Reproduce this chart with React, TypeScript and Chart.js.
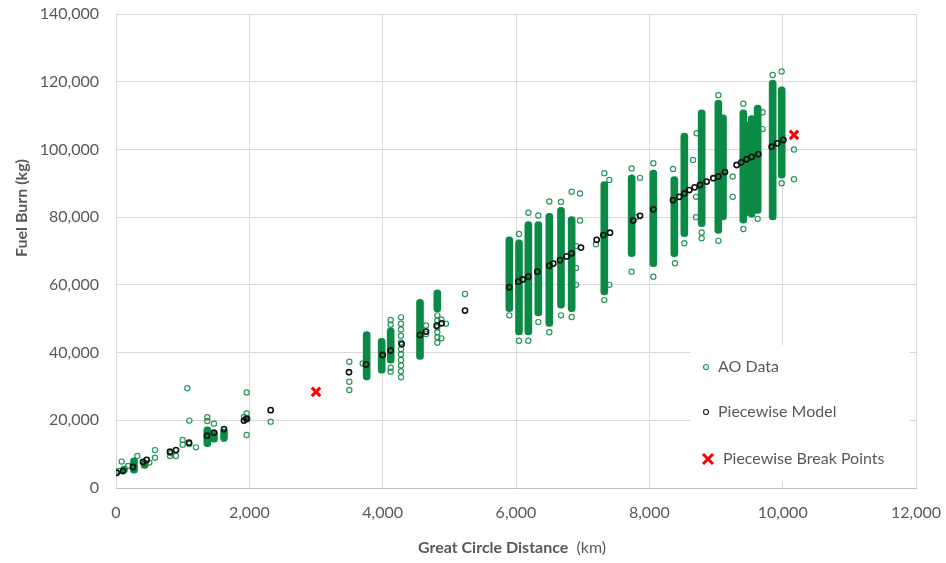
import React, { useEffect, useRef } from "react";
import { Chart, registerables } from "chart.js";

Chart.register(...registerables);

// Dense AO data columns: [distance km, min fuel kg, max fuel kg]
const aoColumns: [number, number, number][] = [
  [120, 4500, 6500],
  [270, 4400, 8900],
  [430, 5800, 8200],
  [1370, 12200, 18100],
  [1470, 13500, 17000],
  [1620, 14000, 17500],
  [1960, 19600, 21300],
  [3760, 31900, 46200],
  [3985, 33900, 44200],
  [4120, 36900, 47300],
  [4560, 38000, 55700],
  [4820, 52000, 58500],
  [5900, 52100, 74200],
  [6045, 45200, 73300],
  [6185, 45200, 78700],
  [6335, 50800, 78700],
  [6500, 47700, 81100],
  [6675, 53100, 82900],
  [6835, 52100, 80200],
  [7325, 57000, 90500],
  [7735, 68300, 92500],
  [8060, 65400, 93900],
  [8375, 68300, 92000],
  [8525, 74200, 104800],
  [8785, 77200, 111700],
  [9035, 75200, 114600],
  [9105, 79200, 110200],
  [9410, 78200, 111700],
  [9480, 80500, 108000],
  [9535, 80000, 110000],
  [9625, 81100, 113100],
  [9850, 79200, 120500],
  [9985, 91500, 118500],
];

// Individual AO data points: [distance km, fuel kg]
const aoPoints: [number, number][] = [
  [40, 5000], [85, 7800], [180, 6500], [320, 9450], [500, 7500], [585, 11200], [585, 8950],
  [810, 9450], [820, 10300], [900, 9450], [1000, 14200], [1000, 12800], [1070, 29450],
  [1100, 19900], [1100, 13000], [1200, 12000], [1370, 20900], [1370, 19800], [1470, 19000],
  [1620, 14500], [1920, 21000], [1960, 28200], [1960, 22000], [1960, 15650], [2320, 19600],
  [3500, 37300], [3500, 31400], [3500, 28950], [3700, 36800],
  [4120, 49600], [4120, 48200], [4120, 34350], [4120, 35500],
  [4275, 50400], [4275, 48500], [4275, 46800], [4275, 45000], [4275, 43000], [4275, 41000],
  [4275, 39500], [4275, 37800], [4275, 36200], [4275, 34500], [4275, 32700],
  [4650, 48000], [4650, 45500], [4820, 42900], [4820, 44500], [4820, 46000], [4820, 47500],
  [4820, 49500], [4820, 51000], [4880, 49800], [4950, 48500], [4880, 44200], [5235, 57300],
  [5900, 51000], [6045, 43500], [6045, 75000], [6185, 43500], [6185, 81300], [6335, 49000],
  [6335, 80500], [6500, 46000], [6500, 84600], [6675, 51000], [6675, 84500], [6835, 50500],
  [6835, 87500], [6960, 87000], [6900, 71500], [6900, 65000], [6900, 60000], [6960, 79000],
  [7200, 72000], [7325, 93000], [7325, 55500], [7400, 91000], [7400, 60000], [7735, 94400],
  [7735, 63900], [7800, 80000], [7860, 91600], [8060, 95900], [8060, 62400], [8385, 66400],
  [8355, 94200], [8525, 72300], [8655, 96900], [8710, 104800], [8785, 73800], [8785, 75500],
  [8700, 86000], [8700, 80000], [9035, 73000], [9035, 116000], [9250, 86000], [9250, 92000],
  [9410, 76500], [9410, 113500], [9625, 79500], [9700, 111000], [9700, 106000],
  [9850, 118000], [9850, 122000], [9985, 123000], [9985, 90000], [10170, 100000], [10170, 91200],
];

// Piecewise model points: [distance km, fuel kg]
const modelPoints: [number, number][] = [
  [10, 4500], [105, 5000], [255, 6200], [405, 7700], [460, 8300], [810, 10700], [900, 11200],
  [1095, 13400], [1365, 15450], [1470, 16350], [1620, 17400], [1920, 19900], [1960, 20400],
  [2320, 23000], [3495, 34200], [3750, 36500], [4000, 39300], [4120, 40600], [4285, 42500],
  [4560, 45200], [4650, 46200], [4810, 47950], [4885, 48650], [5235, 52400], [5900, 59300],
  [6035, 60950], [6100, 61600], [6185, 62400], [6320, 63900], [6500, 65650], [6560, 66300],
  [6660, 67300], [6760, 68400], [6835, 69300], [6975, 71000], [7210, 73300], [7310, 74700],
  [7410, 75400], [7760, 79000], [7860, 80400], [8060, 82300], [8355, 85000], [8450, 86000],
  [8525, 87000], [8600, 88000], [8680, 88800], [8760, 89500], [8860, 90500], [8960, 91500],
  [9035, 92000], [9135, 93300], [9310, 95400], [9380, 96200], [9460, 97100], [9535, 97800],
  [9635, 98600], [9835, 100800], [9920, 101800], [10010, 102800],
];

// Piecewise break points
const breakPoints: [number, number][] = [
  [3000, 28400],
  [10170, 104300],
];

const xTicks = [0, 2000, 4000, 6000, 8000, 10000, 12000];
const yTicks = [0, 20000, 40000, 60000, 80000, 100000, 120000, 140000];

const GREEN = "#0b8a45";
const AO_STROKE = "rgba(18,140,72,0.9)";
const TEXT = "#595959";
const FONT = "Lato, 'Open Sans', sans-serif";

const overlayPlugin = {
  id: "overlay",
  afterDraw(chart: any) {
    const { ctx, chartArea } = chart;
    ctx.save();
    // Legend box
    const lx = chartArea.right - 226;
    const ly = chartArea.bottom - 143;
    ctx.fillStyle = "#ffffff";
    ctx.fillRect(lx, ly, 220, 136);
    ctx.font = `16px ${FONT}`;
    ctx.fillStyle = TEXT;
    ctx.textBaseline = "middle";
    ctx.textAlign = "left";
    // AO Data
    ctx.beginPath();
    ctx.arc(lx + 16, ly + 22, 2.5, 0, Math.PI * 2);
    ctx.strokeStyle = AO_STROKE;
    ctx.lineWidth = 1.2;
    ctx.stroke();
    ctx.fillText("AO Data", lx + 28, ly + 22);
    // Model
    ctx.beginPath();
    ctx.arc(lx + 16, ly + 67, 2.5, 0, Math.PI * 2);
    ctx.strokeStyle = "#222";
    ctx.stroke();
    ctx.fillText("Piecewise Model", lx + 28, ly + 67);
    // Break points
    ctx.beginPath();
    const cx = lx + 18, cy = ly + 114, s = 5;
    ctx.moveTo(cx - s, cy - s); ctx.lineTo(cx + s, cy + s);
    ctx.moveTo(cx + s, cy - s); ctx.lineTo(cx - s, cy + s);
    ctx.strokeStyle = "#ff0000";
    ctx.lineWidth = 3;
    ctx.stroke();
    ctx.fillText("Piecewise Break Points", lx + 33, ly + 114);

    // Axis titles
    ctx.fillStyle = TEXT;
    const boldPart = "Great Circle Distance";
    const normPart = "  (km)";
    ctx.font = `bold 16px ${FONT}`;
    const w1 = ctx.measureText(boldPart).width;
    ctx.font = `16px ${FONT}`;
    const w2 = ctx.measureText(normPart).width;
    const startX = (chartArea.left + chartArea.right) / 2 - 4 - (w1 + w2) / 2;
    const ty = chartArea.bottom + 60;
    ctx.font = `bold 16px ${FONT}`;
    ctx.fillText(boldPart, startX, ty);
    ctx.font = `16px ${FONT}`;
    ctx.fillText(normPart, startX + w1, ty);

    ctx.translate(22, chartArea.top + 194);
    ctx.rotate(-Math.PI / 2);
    ctx.textAlign = "center";
    ctx.font = `bold 16px ${FONT}`;
    ctx.fillText("Fuel Burn (kg)", 0, 0);
    ctx.restore();
  },
};

export default function App() {
  const ref = useRef<HTMLCanvasElement | null>(null);
  useEffect(() => {
    if (!ref.current) return;
    Chart.defaults.font.family = FONT;
    const chart = new Chart(ref.current, {
      type: "scatter",
      data: {
        datasets: [
          {
            type: "scatter",
            label: "Piecewise Break Points",
            data: breakPoints.map(([x, y]) => ({ x, y })),
            pointStyle: "crossRot",
            pointRadius: 6,
            pointBorderWidth: 3,
            borderColor: "#ff0000",
            backgroundColor: "#ff0000",
            order: 0,
          },
          {
            type: "scatter",
            label: "Piecewise Model",
            data: modelPoints.map(([x, y]) => ({ x, y })),
            pointRadius: 2.6,
            pointBorderWidth: 1.6,
            borderColor: "#111111",
            backgroundColor: "rgba(0,0,0,0)",
            order: 1,
          },
          {
            type: "scatter",
            label: "AO Data",
            data: aoPoints.map(([x, y]) => ({ x, y })),
            pointRadius: 2.6,
            pointBorderWidth: 1.2,
            borderColor: AO_STROKE,
            backgroundColor: "rgba(0,0,0,0)",
            order: 2,
          },
          {
            type: "bar",
            label: "AO Columns",
            data: aoColumns.map(([x, a, b]) => ({ x, y: [a, b] })) as any,
            backgroundColor: GREEN,
            borderColor: GREEN,
            borderWidth: 0,
            borderRadius: 4,
            borderSkipped: false,
            barThickness: 7,
            grouped: false,
            order: 3,
          } as any,
        ],
      },
      options: {
        animation: false,
        responsive: false,
        events: [],
        layout: { autoPadding: false, padding: { top: 14, right: 30, left: 0, bottom: 0 } },
        plugins: { legend: { display: false }, tooltip: { enabled: false } },
        scales: {
          x: {
            type: "linear",
            min: 0,
            max: 12000,
            offset: false,
            afterBuildTicks: (s: any) => { s.ticks = xTicks.map((v) => ({ value: v })); },
            afterFit: (s: any) => { s.height = 75; },
            grid: { color: "#d9d9d9", drawTicks: true, tickLength: 15, tickColor: "rgba(0,0,0,0)", offset: false },
            border: { color: "#bfbfbf" },
            ticks: {
              color: TEXT,
              font: { size: 16, family: FONT },
              padding: 0,
              maxRotation: 0,
              callback: (v: any) => Number(v).toLocaleString("en-US"),
            },
          },
          y: {
            type: "linear",
            min: 0,
            max: 140000,
            afterBuildTicks: (s: any) => { s.ticks = yTicks.map((v) => ({ value: v })); },
            afterFit: (s: any) => { s.width = 116; },
            grid: { color: "#d9d9d9", drawTicks: true, tickLength: 17, tickColor: "rgba(0,0,0,0)" },
            border: { color: "#d9d9d9" },
            ticks: {
              color: TEXT,
              font: { size: 16, family: FONT },
              padding: 0,
              callback: (v: any) => Number(v).toLocaleString("en-US"),
            },
          },
        },
      },
      plugins: [overlayPlugin],
    } as any);
    return () => chart.destroy();
  }, []);
  return (
    <div style={{ position: "fixed", left: 0, top: 0, width: 946, height: 563, background: "#fff" }}>
      <canvas ref={ref} width={946} height={563} style={{ display: "block" }} />
    </div>
  );
}
